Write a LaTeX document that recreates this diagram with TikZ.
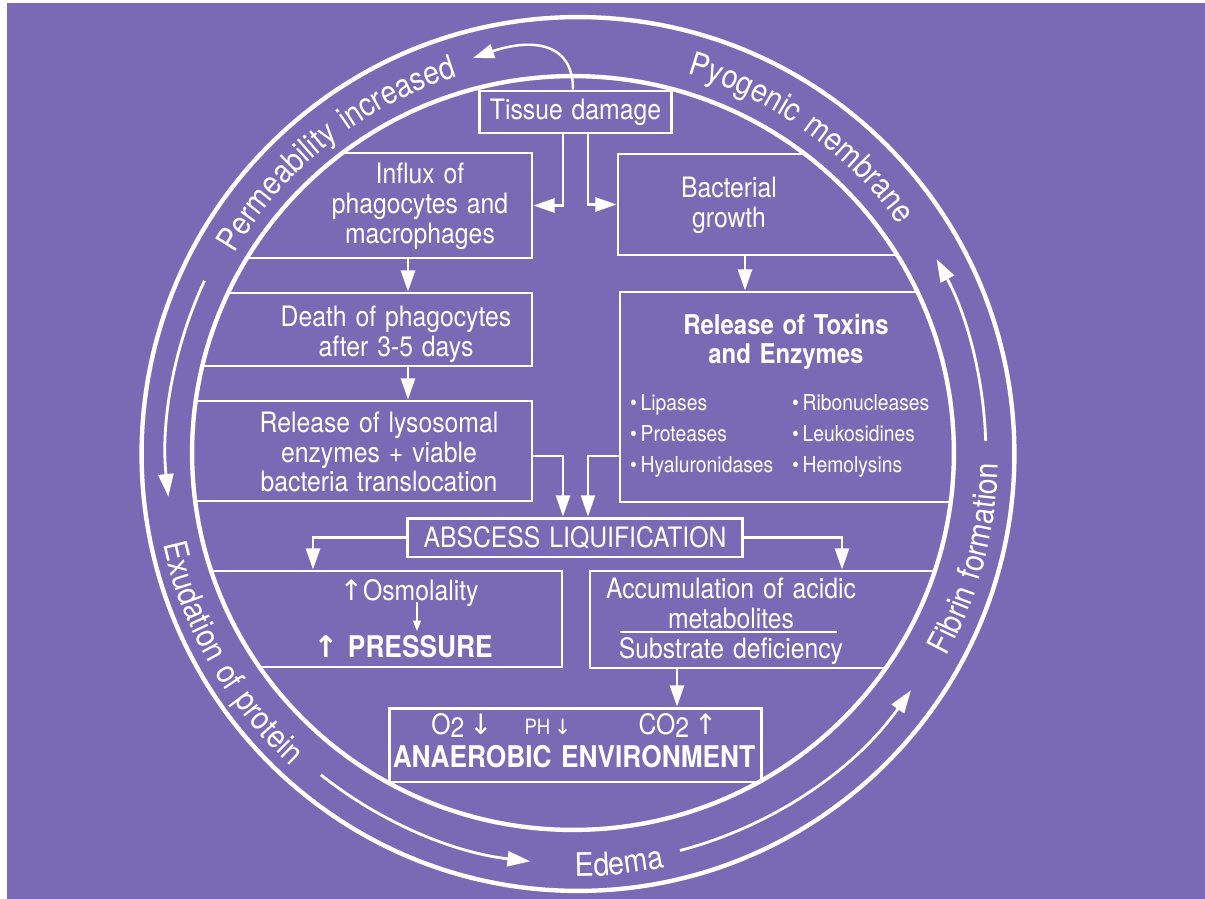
\documentclass[tikz,border=0pt]{standalone}
\usepackage{fontspec}
\setmainfont{TeX Gyre Heros}[FakeStretch=0.88, WordSpace=1.3]
\newfontfamily\arrowfont{DejaVu Sans}
\usepackage{tikz}
\usetikzlibrary{arrows.meta, fit, decorations.text}

\definecolor{slide}{RGB}{120,106,180}
\newcommand{\boxfont}{\fontsize{16}{17}\selectfont}
\newcommand{\ringfont}{\fontsize{18.5}{20}\selectfont}
\newcommand{\listfont}{\fontsize{12.5}{17.5}\selectfont}
\newcommand{\titlefont}{\fontsize{15.5}{16.5}\selectfont\bfseries}
\newcommand{\heavyfont}{\fontsize{17}{18}\selectfont\bfseries}
\newcommand{\uparr}{{\arrowfont ↑}}
\newcommand{\downarr}{{\arrowfont ↓}}
\newcommand{\lowtwo}{\raisebox{-2pt}{2}}

\tikzset{
  box/.style={draw=white, line width=1.7pt, inner sep=0pt},
  lbl/.style={text=white, align=center, font=\boxfont},
  arr/.style={white, line width=1.4pt, -{Triangle[length=12pt,width=8pt]}},
  arrsmall/.style={white, line width=1pt, -{Triangle[length=6pt,width=4.5pt]}},
  ring/.style={white, line width=2.5pt},
  ringarr/.style={white, line width=1.6pt, -{Triangle[length=13pt,width=8.5pt]}},
  ringtext/.style={decorate, decoration={text along path, text align=center,
      text color=white, text={|\ringfont|#1}}},
}

\begin{document}
\begin{tikzpicture}[x=0.02cm, y=-0.02cm]

\useasboundingbox (0,0) rectangle (1205,899);
\fill[white] (0,0) rectangle (1205,899);
\fill[slide] (7,3) rectangle (1205,899);

\draw[ring] (578,454) ellipse [x radius=8.73cm, y radius=8.74cm];
\draw[ring] (573,453) ellipse [x radius=7.62cm, y radius=7.54cm];

\begin{scope}
\clip (573,453) ellipse [x radius=7.62cm, y radius=7.54cm];
\node[box, fit={(150,153) (532,258)}] (influx) {};
\node[box, fit={(150,293) (532,366)}] (death) {};
\node[box, fit={(150,401) (532,501)}] (lyso) {};
\node[box, fit={(618,154) (1000,255)}] (bact) {};
\node[box, fit={(620,292) (1000,502)}] (toxins) {};
\node[box, fit={(150,571) (562,667)}] (pbox) {};
\node[box, fit={(590,571) (1000,668)}] (accbox) {};
\end{scope}

\node[box, lbl, minimum width=3.86cm, minimum height=0.84cm] (tissue) at (575.5,112) {Tissue damage};
\node[box, lbl, minimum width=6.72cm, minimum height=0.78cm] (abscess) at (575,537.5) {ABSCESS LIQUIFICATION};
\node[box, minimum width=7.46cm, minimum height=1.48cm] (anaer) at (575.5,745) {};

\begin{scope}[every node/.style={lbl}]
\node (influxtxt) at (420,206) {Influx of\\phagocytes and\\macrophages};
\node (deathtxt) at (396,334) {Death of phagocytes\\after 3-5 days};
\node (lysotxt) at (379,452) {Release of lysosomal\\enzymes + viable\\bacteria translocation};
\node (bacttxt) at (729,205) {Bacterial\\growth};
\node[font=\titlefont] (toxtxt) at (786,342) {Release of Toxins\\and Enzymes};
\node[font=\listfont, align=left, anchor=west] (lista) at (624,436) {\textbullet\,Lipases\\\textbullet\,Proteases\\\textbullet\,Hyaluronidases};
\node[font=\listfont, align=left, anchor=west] (listb) at (786,436) {\textbullet\,Ribonucleases\\\textbullet\,Leukosidines\\\textbullet\,Hemolysins};
\node[anchor=base] (osmo) at (409,600) {\uparr Osmolality};
\node[font=\heavyfont, anchor=base] (press) at (403,657) {\uparr\ PRESSURE};
\node (acctxt) at (731,603) {Accumulation of acidic\\metabolites};
\node[anchor=base] (subtxt) at (731,658) {Substrate deficiency};
\node[anchor=base] (otwo) at (462,734) {O\lowtwo\,\downarr};
\node[font=\fontsize{12}{13}\selectfont, anchor=base] (phtxt) at (548,734) {PH\,\downarr};
\node[anchor=base] (cotwo) at (678,734) {CO\lowtwo\,\uparr};
\node[font=\heavyfont, anchor=base] (anaertxt) at (574,767) {ANAEROBIC ENVIRONMENT};
\end{scope}

\draw[white, line width=1.1pt] ([yshift=0.05cm]acctxt.south -| 620,0) -- ([yshift=0.05cm]acctxt.south -| 837,0);

\coordinate (permtip) at (473,58);
\draw[arr] ([xshift=-0.05cm]tissue.north) .. controls (573,38) and (525,40) .. (permtip);
\draw[arr] ([xshift=-0.25cm]tissue.south) |- (influx.east);
\draw[arr] ([xshift=0.25cm]tissue.south) |- (bact.west);
\draw[arr] (influx.south -| 408,0) -- (death.north -| 408,0);
\draw[arr] (death.south -| 408,0) -- (lyso.north -| 408,0);
\draw[arr] (bact.south -| 745,0) -- (toxins.north -| 745,0);
\draw[arr] (lyso.east |- 0,456) -| ([xshift=-0.24cm]abscess.north);
\draw[arr] (toxins.west |- 0,456) -| ([xshift=0.26cm]abscess.north);
\draw[arr] (abscess.west) -| ([xshift=-0.86cm]pbox.north);
\draw[arr] (abscess.east) -| ([xshift=0.94cm]accbox.north);
\draw[arr] (accbox.south -| 677,0) -- (anaer.north -| 677,0);
\draw[arrsmall] ([yshift=-0.04cm]osmo.base -| 417,0) -- ([yshift=-0.05cm]press.north -| 417,0);

\begin{scope}[shift={(576,454)}, x=1cm, y=1cm]
\draw[ringarr] (155:8.2) arc[start angle=155, end angle=186, radius=8.2];
\draw[ringarr] (231.5:8.2) arc[start angle=231.5, end angle=263.6, radius=8.2];
\draw[ringarr] (284.7:8.2) arc[start angle=284.7, end angle=324.8, radius=8.2];
\draw[ringarr] (1.8:8.2) arc[start angle=1.8, end angle=28.4, radius=8.2];
\path[ringtext={Permeability increased}] (168:7.92) arc[start angle=168, end angle=89, radius=7.92];
\path[ringtext={Pyogenic membrane}] (90:7.92) arc[start angle=90, end angle=19, radius=7.92];
\path[ringtext={Fibrin formation}] (-50:8.45) arc[start angle=-50, end angle=20, radius=8.45];
\path[ringtext={Exudation of protein}] (170:8.45) arc[start angle=170, end angle=250, radius=8.45];
\path[ringtext={Edema}] (246:8.45) arc[start angle=246, end angle=306, radius=8.45];
\end{scope}

\end{tikzpicture}
\end{document}
